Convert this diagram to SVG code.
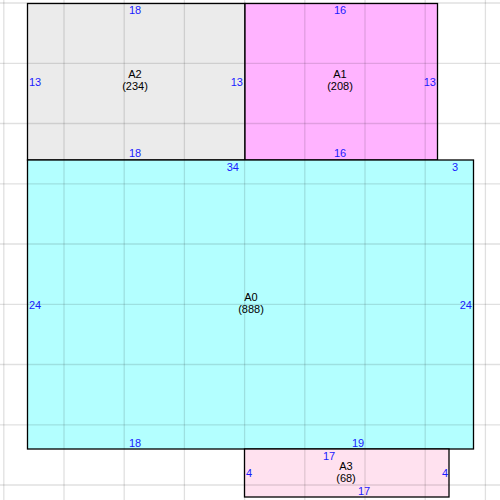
<svg xmlns="http://www.w3.org/2000/svg" width="500" height="500" viewBox="0 0 500 500">
<style>
.box{stroke:#000;stroke-width:1.3}
.lbl{font-family:"Liberation Sans",Arial,sans-serif;font-size:11px;fill:#000;text-anchor:middle}
.num{font-family:"Liberation Sans",Arial,sans-serif;font-size:11px;fill:#1a1aff;text-anchor:middle}
.st{text-anchor:start}
.en{text-anchor:end}
#grid line{stroke:#000;stroke-opacity:0.12;stroke-width:1.3}
</style>
<rect width="500" height="500" fill="#fff"/>
<g id="A2">
<rect class="box" x="27.5" y="3.5" width="217.5" height="156.5" fill="#ebebeb"/>
<text class="lbl" x="135" y="78">A2</text>
<text class="lbl" x="135" y="90">(234)</text>
<text class="num" x="135" y="14">18</text>
<text class="num" x="135" y="157">18</text>
<text class="num st" x="29" y="86">13</text>
<text class="num en" x="243" y="86">13</text>
</g>
<g id="A1">
<rect class="box" x="245" y="3.5" width="192.5" height="156.5" fill="#ffb3ff"/>
<text class="lbl" x="340" y="78">A1</text>
<text class="lbl" x="340" y="90">(208)</text>
<text class="num" x="340" y="14">16</text>
<text class="num" x="340" y="157">16</text>
<text class="num en" x="436" y="86">13</text>
</g>
<g id="A0">
<rect class="box" x="27.5" y="160" width="446" height="289" fill="#b3ffff"/>
<text class="lbl" x="251" y="301">A0</text>
<text class="lbl" x="251" y="313">(888)</text>
<text class="num en" x="239" y="171">34</text>
<text class="num" x="455" y="171">3</text>
<text class="num st" x="29" y="309">24</text>
<text class="num en" x="472" y="309">24</text>
<text class="num" x="135" y="447">18</text>
<text class="num" x="358" y="447">19</text>
</g>
<g id="A3">
<rect class="box" x="244.5" y="449" width="204.5" height="48" fill="#ffe1ef"/>
<text class="lbl" x="346" y="470">A3</text>
<text class="lbl" x="346" y="482">(68)</text>
<text class="num" x="329" y="460">17</text>
<text class="num" x="364" y="495">17</text>
<text class="num st" x="246" y="477">4</text>
<text class="num en" x="448" y="477">4</text>
</g>
<g id="grid">
<line x1="3.8" y1="0" x2="3.8" y2="500"/>
<line x1="64" y1="0" x2="64" y2="500"/>
<line x1="124.2" y1="0" x2="124.2" y2="500"/>
<line x1="184.4" y1="0" x2="184.4" y2="500"/>
<line x1="244.6" y1="0" x2="244.6" y2="500"/>
<line x1="304.8" y1="0" x2="304.8" y2="500"/>
<line x1="365" y1="0" x2="365" y2="500"/>
<line x1="425.2" y1="0" x2="425.2" y2="500"/>
<line x1="485.4" y1="0" x2="485.4" y2="500"/>
<line x1="0" y1="3" x2="500" y2="3"/>
<line x1="0" y1="63.3" x2="500" y2="63.3"/>
<line x1="0" y1="123.5" x2="500" y2="123.5"/>
<line x1="0" y1="183.8" x2="500" y2="183.8"/>
<line x1="0" y1="244" x2="500" y2="244"/>
<line x1="0" y1="304.3" x2="500" y2="304.3"/>
<line x1="0" y1="364.5" x2="500" y2="364.5"/>
<line x1="0" y1="424.8" x2="500" y2="424.8"/>
<line x1="0" y1="485" x2="500" y2="485"/>
</g>
</svg>
